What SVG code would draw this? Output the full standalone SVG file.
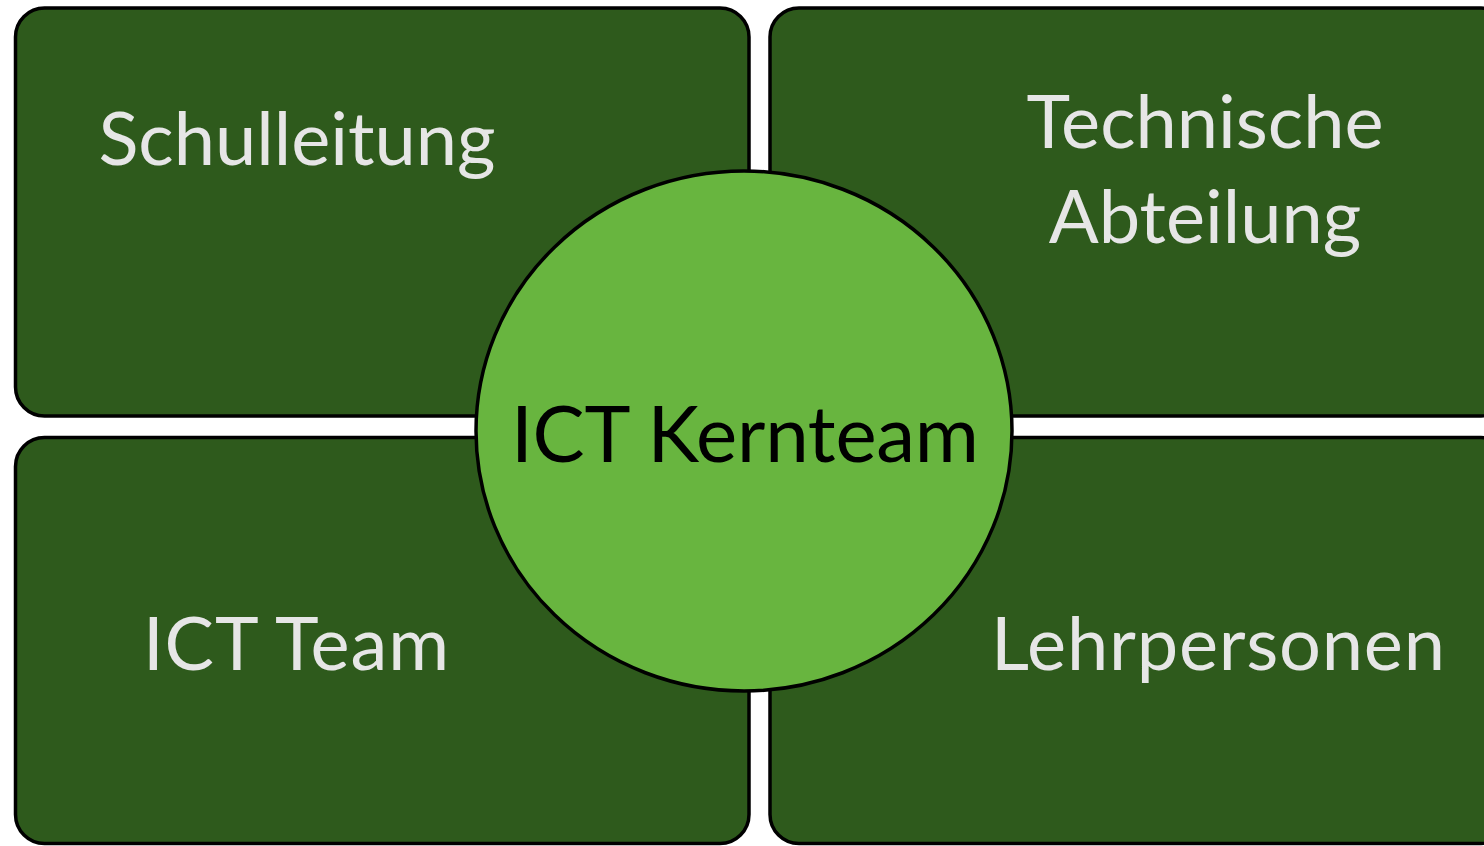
<svg xmlns="http://www.w3.org/2000/svg" width="1484" height="846" viewBox="0 0 1484 846">
<style>
.box{fill:#2E5A1C;stroke:#000;stroke-width:3.5}
.lbl{fill:#E6E6E6;font-family:Lato,"Open Sans",sans-serif;font-size:74px;text-anchor:middle}
.core{fill:#68B53F;stroke:#000;stroke-width:3.5}
.ctxt{fill:#000;font-family:Lato,"Open Sans",sans-serif;font-size:78px;text-anchor:middle}
</style>
<rect width="1484" height="846" fill="#fff"/>
<g id="schulleitung">
<rect class="box" x="15.5" y="8" width="733.5" height="408" rx="29"/>
<text class="lbl" x="297" y="165">Schulleitung</text>
</g>
<g id="technische-abteilung">
<rect class="box" x="770" y="8" width="740" height="408" rx="29"/>
<text class="lbl" x="1205" y="148">Technische</text>
<text class="lbl" x="1205" y="243">Abteilung</text>
</g>
<g id="ict-team">
<rect class="box" x="15.5" y="437.5" width="733.5" height="406" rx="29"/>
<text class="lbl" x="296" y="670" textLength="306" lengthAdjust="spacing">ICT Team</text>
</g>
<g id="lehrpersonen">
<rect class="box" x="770" y="437.5" width="740" height="406" rx="29"/>
<text class="lbl" x="1218" y="670" textLength="454" lengthAdjust="spacing">Lehrpersonen</text>
</g>
<g id="connectors"></g>
<g id="ict-kernteam">
<ellipse class="core" cx="744" cy="431" rx="268" ry="260"/>
<text class="ctxt" x="745" y="462" textLength="468" lengthAdjust="spacing">ICT Kernteam</text>
</g>
</svg>
